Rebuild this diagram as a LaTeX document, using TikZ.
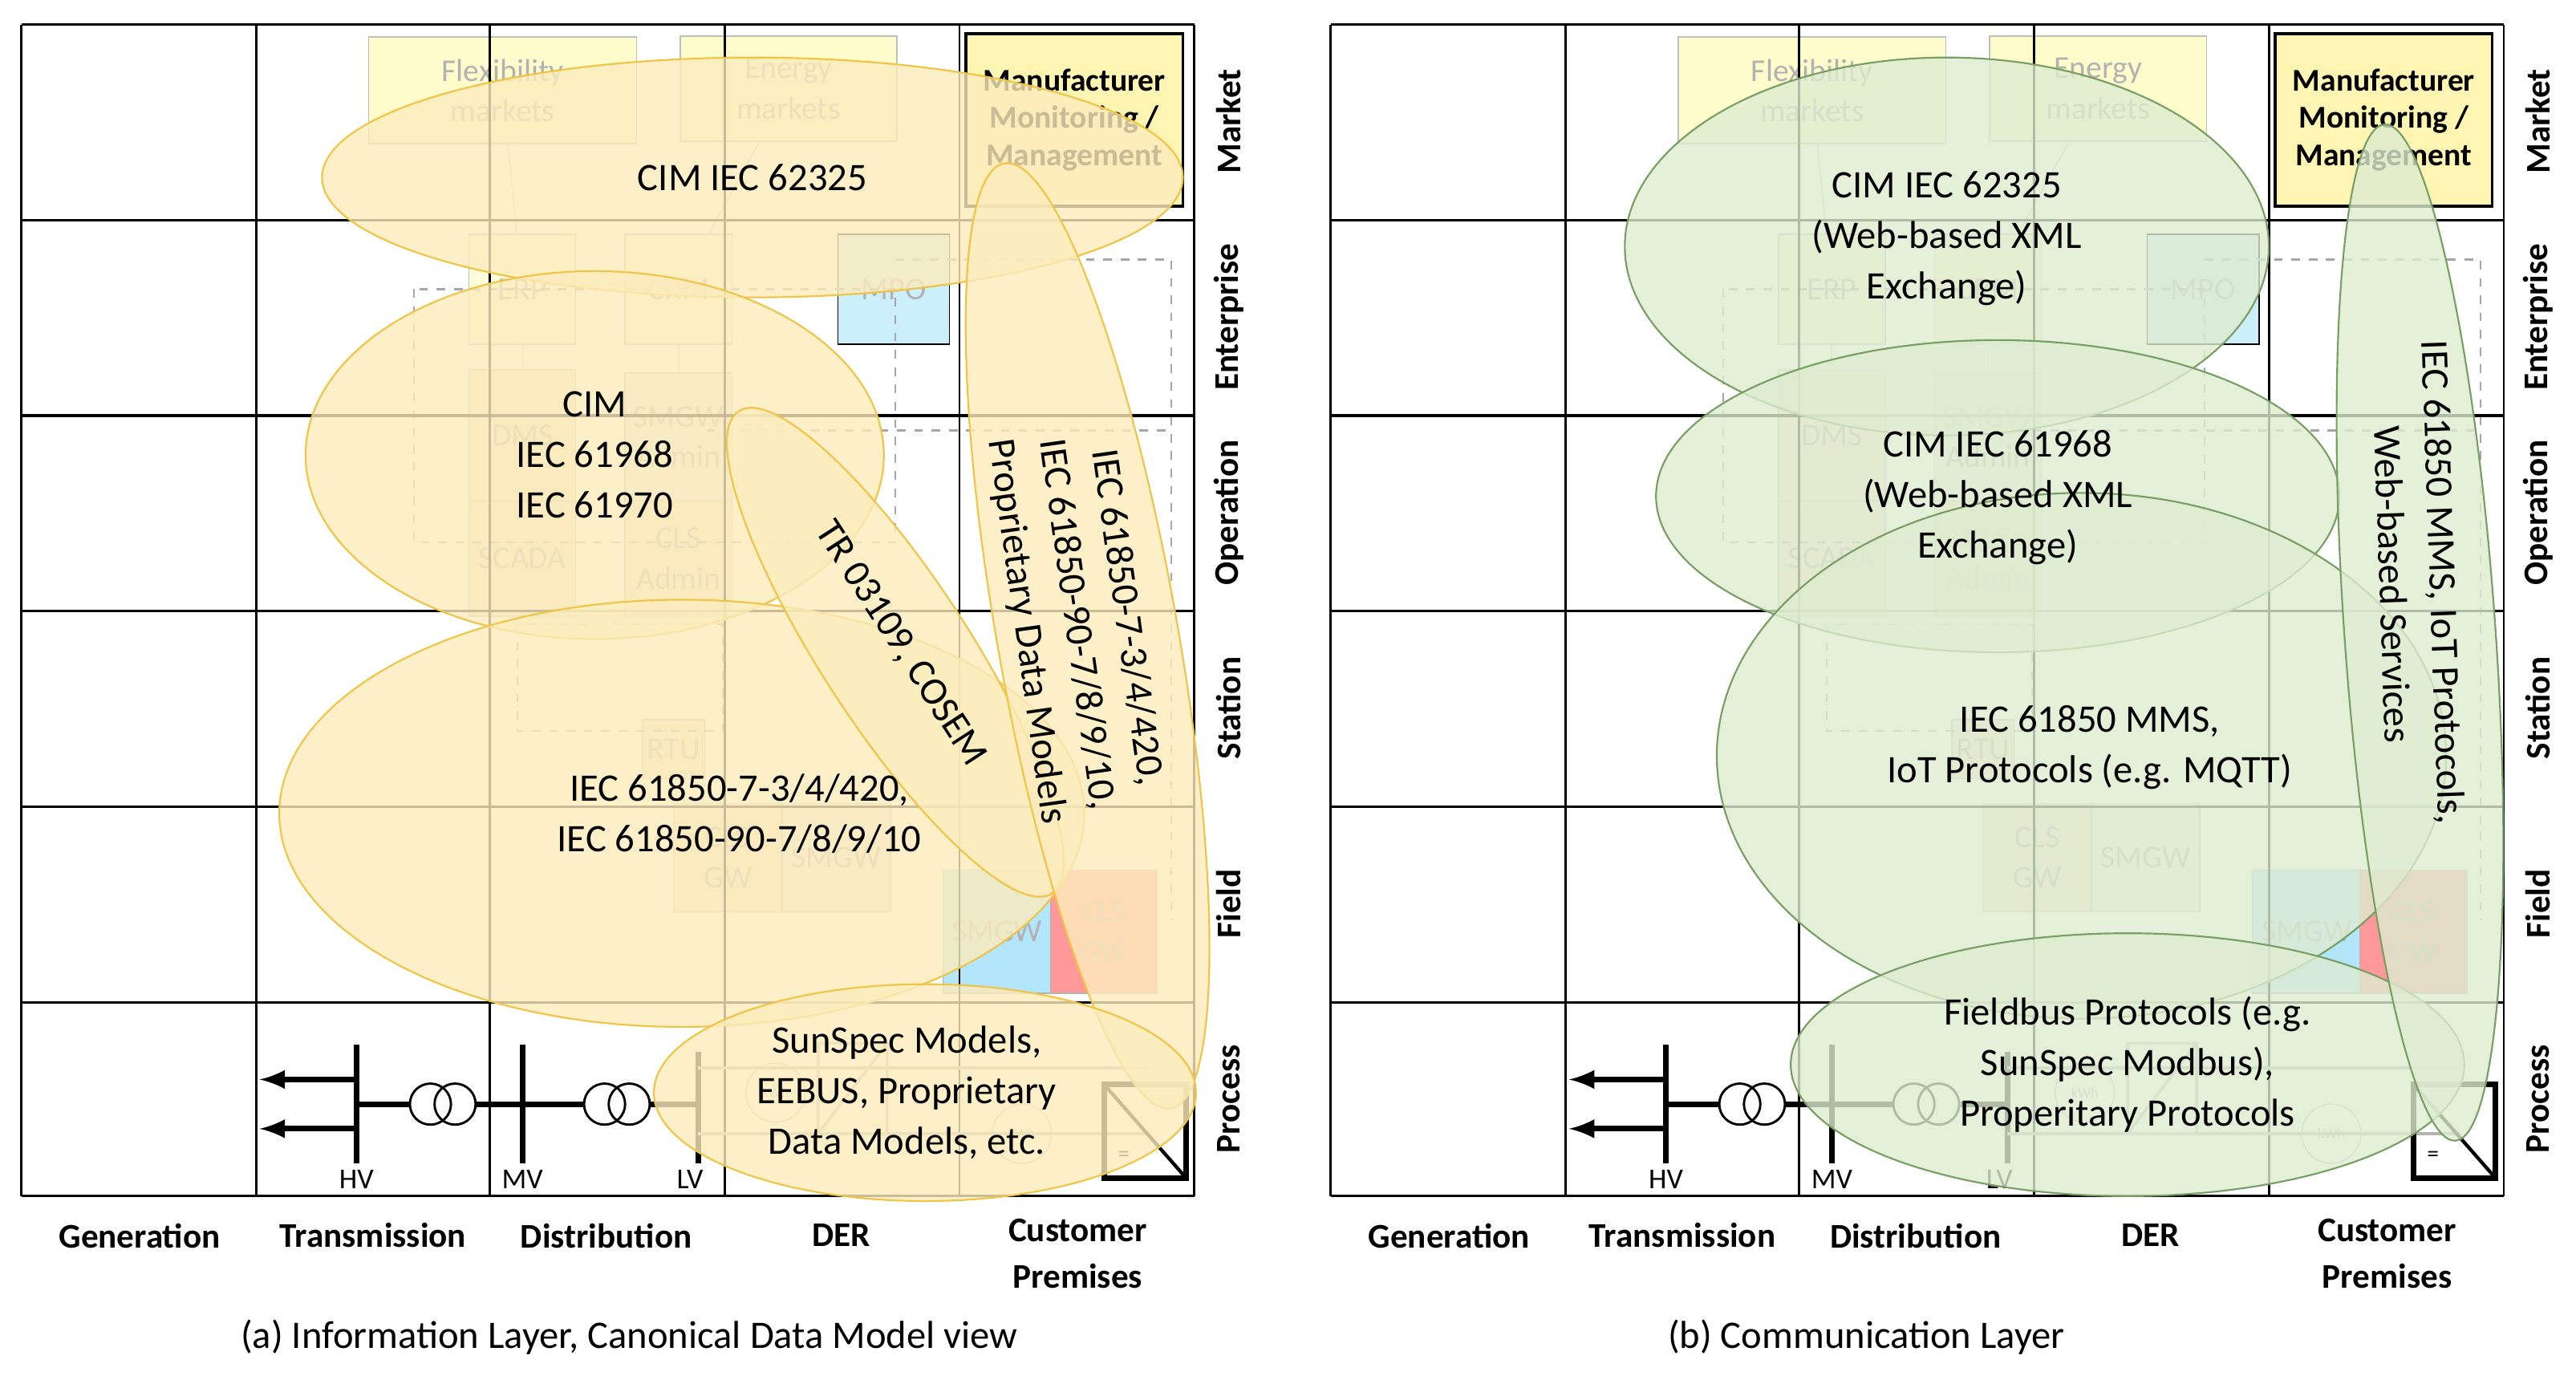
\documentclass[tikz,border=0pt]{standalone}
\usepackage{fontspec}
\setmainfont{Carlito}
\definecolor{yfill}{RGB}{252,236,188}
\definecolor{ydraw}{RGB}{240,196,70}
\definecolor{gfill}{RGB}{222,236,208}
\definecolor{gdraw}{RGB}{120,160,100}
\begin{document}
\begin{tikzpicture}[x=0.02cm,y=0.02cm,
  box/.style={draw=black!25,fill=#1,text=black!30,align=center,inner sep=0pt,font=\fontsize{11}{14}\selectfont},
  dsh/.style={draw=black!35,dashed,line width=0.6pt},
  ellY/.style={draw=ydraw,line width=0.6pt,fill=yfill,fill opacity=0.8},
  ellG/.style={draw=gdraw,line width=0.6pt,fill=gfill,fill opacity=0.8},
  etxt/.style={align=center,font=\fontsize{13.5}{17.5}\selectfont},
  rowl/.style={rotate=90,font=\bfseries\fontsize{12}{14}\selectfont},
  coll/.style={align=center,font=\bfseries\fontsize{12}{16}\selectfont},
  captxt/.style={font=\fontsize{13.5}{16}\selectfont},
  bus/.style={line width=2pt},
  arr/.style={line width=2pt,-latex}]
\useasboundingbox (0,0) rectangle (1568,-842);
\newcommand\bx[7]{\node[box=#6,minimum width=#3*0.02cm,minimum height=#4*0.02cm] (#5) at (#1,-#2) {#7};}
\newcommand\panelbg{%
 \bx{306}{55}{163}{65}{flex}{yellow!20}{Flexibility\\markets}
 \bx{480}{54}{132}{64}{energy}{yellow!20}{Energy\\markets}
 \node[draw=black,line width=1pt,fill=orange!25!yellow!30,minimum width=132*0.02cm,minimum height=105*0.02cm,align=center,inner sep=0pt,font=\bfseries\fontsize{11}{13}\selectfont] (manu) at (654,-73) {Manufacturer\\Monitoring /\\Management};
 \bx{318}{176}{65}{67}{erp}{yellow!15}{ERP}
 \bx{413}{176}{65}{67}{crm}{yellow!15}{CRM}
 \node[draw=black,fill=cyan!20,minimum width=68*0.02cm,minimum height=67*0.02cm,text=black!30,inner sep=0pt,font=\fontsize{11}{14}\selectfont] (mpo) at (544,-176) {MPO};
 \bx{318}{265}{65}{80}{dms}{orange!20}{DMS}
 \bx{413}{266}{65}{78}{smgwa}{black!7}{SMGW\\Admin}
 \bx{318}{340}{65}{70}{scada}{orange!20}{SCADA}
 \bx{413}{340}{65}{70}{clsa}{orange!20}{CLS\\Admin}
 \bx{410}{456}{38}{36}{rtu}{orange!20}{RTU}
 \bx{443}{522}{66}{66}{clsgw}{orange!20}{CLS\\GW}
 \bx{509}{522}{66}{66}{smgw}{black!7}{SMGW}
 \node[draw=black!30,fill=cyan!30,minimum width=66*0.02cm,minimum height=75*0.02cm,text=black!30,inner sep=0pt,font=\fontsize{11}{14}\selectfont] (smgw2) at (607,-567) {SMGW};
 \node[draw=black!30,fill=red!40,minimum width=65*0.02cm,minimum height=75*0.02cm,text=black!30,inner sep=0pt,align=center,font=\fontsize{11}{14}\selectfont] (clsgw2) at (672,-567) {CLS\\GW};
 \draw[dsh] (252,-176) rectangle (545,-330);
 \draw[dsh] (545,-158) -- (713,-158) -- (713,-560);
 \draw[dsh] (430,-262) -- (713,-262);
 \draw[dsh] (315,-380) rectangle (440,-445);
 \draw[black!20] (flex) -- (erp) -- (dms) -- (scada);
 \draw[black!20] (energy) -- (crm) -- (smgwa) -- (clsa);
 \foreach \x in {13,156,298,441,584,727} \draw[line width=0.8pt] (\x,-15)--(\x,-728);
 \foreach \y in {15,134,253,372,491,610,728} \draw[line width=0.9pt] (13,-\y)--(727,-\y);
 \coordinate (hvt) at (217,-636); \coordinate (hvb) at (217,-708);
 \draw[bus] (hvt) -- (hvb);
 \coordinate (a1) at (217,-657); \coordinate (a1e) at (158,-657);
 \coordinate (a2) at (217,-687); \coordinate (a2e) at (158,-687);
 \draw[arr] (a1) -- (a1e); \draw[arr] (a2) -- (a2e);
 \node[draw,circle,line width=0.8pt,minimum size=25*0.02cm,inner sep=0pt] (t1a) at (262,-672) {};
 \node[draw,circle,line width=0.8pt,minimum size=25*0.02cm,inner sep=0pt] (t1b) at (277,-672) {};
 \coordinate (hvm) at (217,-672); \draw[bus] (hvm) -- (t1a);
 \draw[bus] (318,-636) -- (318,-708);
 \coordinate (mvm) at (318,-672); \draw[bus] (t1b) -- (mvm);
 \node[draw,circle,line width=0.8pt,minimum size=25*0.02cm,inner sep=0pt] (t2a) at (368,-672) {};
 \node[draw,circle,line width=0.8pt,minimum size=25*0.02cm,inner sep=0pt] (t2b) at (383,-672) {};
 \draw[bus] (mvm) -- (t2a);
 \coordinate (lvm) at (425,-672); \draw[bus] (t2b) -- (lvm);
 \draw[bus] (425,-640) -- (425,-708);
 \draw[black!30,line width=1pt] (425,-650) -- (700,-650);
 \draw[black!30,line width=1pt] (425,-690) -- (700,-690);
 \node[draw=black!25,circle,minimum size=36*0.02cm,inner sep=0pt,text=black!30,font=\tiny] (kwh1) at (472,-665) {kWh};
 \node[draw=black!25,circle,minimum size=36*0.02cm,inner sep=0pt,text=black!30,font=\tiny] (kwh2) at (622,-690) {kWh};
 \draw[black!25,line width=1pt] (498,-635) rectangle (540,-690) (498,-690)--(540,-635);
 \draw[line width=2pt] (672,-660) rectangle (722,-717); \draw[line width=1.2pt] (672,-660)--(722,-717);
 \node[font=\fontsize{8}{9}\selectfont] (eq) at (684,-704) {=};
 \node[font=\fontsize{10}{12}\selectfont] (hvl) at (217,-718) {HV};
 \node[font=\fontsize{10}{12}\selectfont] (mvl) at (318,-718) {MV};
 \node[font=\fontsize{10}{12}\selectfont] (lvl) at (420,-718) {LV};
 \node[rowl] (r1) at (748,-74) {Market};
 \node[rowl] (r2) at (748,-193) {Enterprise};
 \node[rowl] (r3) at (748,-312) {Operation};
 \node[rowl] (r4) at (748,-431) {Station};
 \node[rowl] (r5) at (748,-550) {Field};
 \node[rowl] (r6) at (748,-669) {Process};
 \node[coll] (c1) at (85,-752) {Generation};
 \node[coll] (c2) at (227,-752) {Transmission};
 \node[coll] (c3) at (369,-752) {Distribution};
 \node[coll] (c4) at (512,-752) {DER};
 \node[coll] (c5) at (656,-763) {Customer\\Premises};
}
\begin{scope}[name prefix=L-]
\panelbg
\draw[ellY] (458,-108) ellipse [x radius=262,y radius=73];
\draw[ellY] (362,-277) ellipse [x radius=176,y radius=112];
\draw[ellY] (415,-495) ellipse [x radius=245,y radius=130];
\draw[ellY] (545,-397) ellipse [x radius=175,y radius=45,rotate=-57];
\draw[ellY] (662,-387) ellipse [x radius=292,y radius=55,rotate=-80];
\draw[ellY] (563,-665) ellipse [x radius=165,y radius=66];
\node[etxt] (e1) at (458,-108) {CIM IEC 62325};
\node[etxt] (e2) at (362,-277) {CIM\\IEC 61968\\IEC 61970};
\node[etxt] (e3) at (450,-495) {IEC 61850-7-3/4/420,\\IEC 61850-90-7/8/9/10};
\node[etxt,rotate=-57] (e4) at (548,-392) {TR 03109, COSEM};
\node[etxt,rotate=-82] (e5) at (655,-380) {IEC 61850-7-3/4/420,\\IEC 61850-90-7/8/9/10,\\Proprietary Data Models};
\node[etxt] (e6) at (552,-665) {SunSpec Models,\\EEBUS, Proprietary\\Data Models, etc.};
\node[captxt] (cap) at (383,-814) {(a) Information Layer, Canonical Data Model view};
\end{scope}
\begin{scope}[xshift=797*0.02cm,name prefix=R-]
\panelbg
\draw[ellG] (388,-150) ellipse [x radius=196,y radius=115];
\draw[ellG] (419,-302) ellipse [x radius=208,y radius=95];
\draw[ellG] (470,-460) ellipse [x radius=222,y radius=160];
\draw[ellG] (498,-648) ellipse [x radius=205,y radius=80];
\draw[ellG] (676,-385) ellipse [x radius=310,y radius=46,rotate=-86];
\node[etxt] (e1) at (388,-145) {CIM IEC 62325\\(Web-based XML\\Exchange)};
\node[etxt] (e2) at (419,-303) {CIM IEC 61968\\(Web-based XML\\Exchange)};
\node[etxt] (e3) at (475,-455) {IEC 61850 MMS,\\IoT Protocols (e.g. MQTT)};
\node[etxt] (e4) at (498,-648) {Fieldbus Protocols (e.g.\\SunSpec Modbus),\\Properitary Protocols};
\node[etxt,rotate=-88] (e5) at (675,-355) {IEC 61850 MMS, IoT Protocols,\\Web-based Services};
\node[captxt] (cap) at (339,-814) {(b) Communication Layer};
\end{scope}
\end{tikzpicture}
\end{document}
